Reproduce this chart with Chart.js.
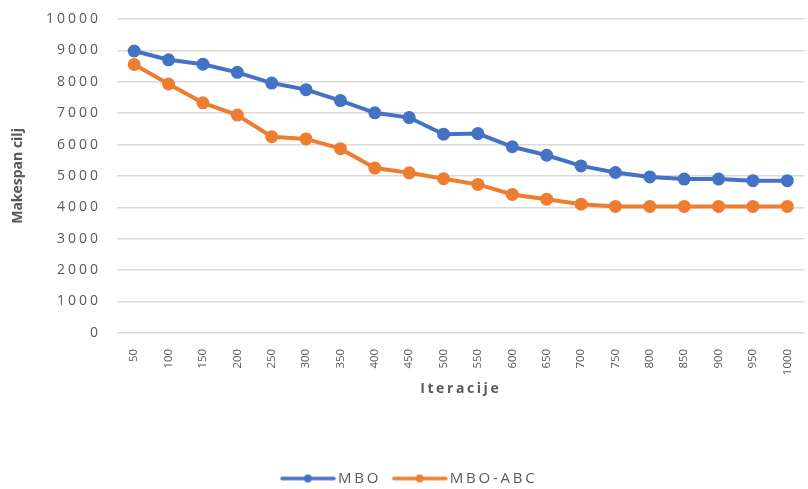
<!DOCTYPE html>
<html>
<head>
<meta charset="utf-8">
<script src="https://cdn.jsdelivr.net/npm/chart.js@4/dist/chart.umd.min.js"></script>
<style>
  html, body { margin: 0; padding: 0; background: #fff; overflow: hidden; }
  #wrap { position: relative; width: 813px; height: 489px; }
</style>
</head>
<body>
<div id="wrap"><canvas id="c"></canvas></div>
<script>
// Iterations on the x axis
const iterations = ['50','100','150','200','250','300','350','400','450','500',
                    '550','600','650','700','750','800','850','900','950','1000'];
// Objective (makespan) per iteration for each algorithm
const mboValues = [8980, 8700, 8560, 8300, 7960, 7750, 7400, 7010, 6860, 6330,
                   6350, 5930, 5660, 5320, 5110, 4970, 4900, 4900, 4850, 4850];
const mboAbcValues = [8550, 7930, 7330, 6940, 6250, 6180, 5870, 5250, 5100, 4910,
                      4730, 4410, 4260, 4100, 4030, 4030, 4030, 4030, 4030, 4030];
const yTicks = [0, 1000, 2000, 3000, 4000, 5000, 6000, 7000, 8000, 9000, 10000];

const BLUE = '#4472C4';
const ORANGE = '#ED7D31';
const TEXT = '#595959';
const GRID = '#D9D9D9';

// Legend marker: line with a dot in the middle
function legendMarker(color) {
  const cv = document.createElement('canvas');
  cv.width = 56; cv.height = 12;
  const g = cv.getContext('2d');
  g.strokeStyle = color; g.lineWidth = 3.5; g.lineCap = 'round';
  g.beginPath(); g.moveTo(2, 6); g.lineTo(54, 6); g.stroke();
  g.fillStyle = color;
  g.beginPath(); g.arc(28, 6, 4, 0, Math.PI * 2); g.fill();
  return cv;
}

// Run a drawing/measuring method with a given canvas letter spacing
function withSpacing(obj, method, spacing) {
  const orig = obj[method];
  obj[method] = function (...args) {
    const ctx = this.ctx;
    const prev = ctx.letterSpacing;
    ctx.letterSpacing = spacing;
    try { return orig.apply(this, args); } finally { ctx.letterSpacing = prev; }
  };
}

const textSpacing = {
  id: 'textSpacing',
  beforeLayout(chart) {
    const targets = [
      [chart.scales.y, 'drawLabels', '3px'],
      [chart.scales.x, 'drawTitle', '2.6px'],
      [chart.legend, 'fit', '2.8px'],
      [chart.legend, 'draw', '2.8px']
    ];
    for (const [obj, method, sp] of targets) {
      if (!obj || obj['_sp_' + method]) continue;
      withSpacing(obj, method, sp);
      obj['_sp_' + method] = true;
    }
  }
};

new Chart(document.getElementById('c'), {
  type: 'line',
  data: {
    labels: iterations,
    datasets: [
      { label: 'MBO', data: mboValues, borderColor: BLUE, backgroundColor: BLUE,
        borderWidth: 4, pointRadius: 4.5, pointHoverRadius: 4.5,
        pointStyle: 'circle', tension: 0, legendMarker: legendMarker(BLUE) },
      { label: 'MBO-ABC', data: mboAbcValues, borderColor: ORANGE, backgroundColor: ORANGE,
        borderWidth: 4, pointRadius: 4.5, pointHoverRadius: 4.5,
        pointStyle: 'circle', tension: 0, legendMarker: legendMarker(ORANGE) }
    ]
  },
  plugins: [textSpacing],
  options: {
    responsive: true,
    maintainAspectRatio: false,
    animation: false,
    layout: { padding: { top: 19, right: 0, left: 10, bottom: -7 } },
    plugins: {
      tooltip: { enabled: false },
      legend: {
        position: 'bottom',
        labels: {
          color: TEXT,
          font: { family: 'Open Sans', size: 15 },
          usePointStyle: true,
          pointStyleWidth: 45,
          boxHeight: 12,
          padding: 16,
          generateLabels(chart) {
            return chart.data.datasets.map((ds, i) => ({
              text: ds.label,
              fillStyle: ds.borderColor,
              strokeStyle: ds.borderColor,
              fontColor: TEXT,
              pointStyle: ds.legendMarker,
              hidden: false,
              datasetIndex: i
            }));
          }
        }
      }
    },
    scales: {
      x: {
        offset: true,
        grid: { display: false },
        border: { display: false },
        ticks: {
          color: TEXT, font: { family: 'Open Sans', size: 11.5 },
          minRotation: 90, maxRotation: 90, autoSkip: false, padding: 8
        },
        title: {
          display: true, text: 'Iteracije', color: TEXT,
          font: { family: 'Open Sans', size: 14, weight: 'bold' },
          padding: { top: -3, bottom: 58 }
        }
      },
      y: {
        min: 0, max: 10000,
        afterBuildTicks(scale) { scale.ticks = yTicks.map(v => ({ value: v })); },
        afterFit(scale) { scale.width = 107; scale.paddingTop = 0; },
        grid: { color: GRID, lineWidth: 1.5, drawTicks: false },
        border: { display: false },
        ticks: {
          color: TEXT, font: { family: 'Open Sans', size: 14 }, padding: 16,
          callback: v => String(v)
        },
        title: {
          display: true, text: 'Makespan cilj', color: TEXT,
          font: { family: 'Open Sans', size: 14, weight: 'bold' },
          padding: { top: 0, bottom: 0 }
        }
      }
    }
  }
});
</script>
</body>
</html>
